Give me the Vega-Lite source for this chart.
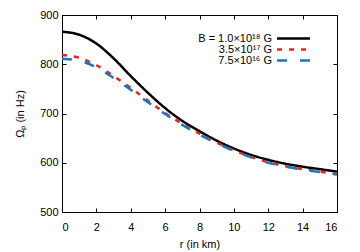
{
  "$schema": "https://vega.github.io/schema/vega-lite/v6.json",
  "autosize": {"type": "none"},
  "padding": {"left": 62, "top": 15, "right": 23, "bottom": 40},
  "width": 275,
  "height": 197,
  "background": "white",
  "config": {
    "font": "Liberation Sans",
    "view": {"stroke": "black", "strokeWidth": 1},
    "axis": {"grid": false, "domain": false, "tickColor": "black", "tickWidth": 1, "labelColor": "black", "titleColor": "black", "labelFontSize": 11, "titleFontSize": 11, "titleFontWeight": "normal", "labelFont": "Liberation Sans", "titleFont": "Liberation Sans"}
  },
  "data": {"values": [
    {"r": 0, "omega": 866, "series": "B = 1.0×10¹⁸ G"},
    {"r": 1, "omega": 860, "series": "B = 1.0×10¹⁸ G"},
    {"r": 2, "omega": 842, "series": "B = 1.0×10¹⁸ G"},
    {"r": 3, "omega": 812, "series": "B = 1.0×10¹⁸ G"},
    {"r": 4, "omega": 776, "series": "B = 1.0×10¹⁸ G"},
    {"r": 5, "omega": 742, "series": "B = 1.0×10¹⁸ G"},
    {"r": 6, "omega": 711, "series": "B = 1.0×10¹⁸ G"},
    {"r": 7, "omega": 685, "series": "B = 1.0×10¹⁸ G"},
    {"r": 8, "omega": 664, "series": "B = 1.0×10¹⁸ G"},
    {"r": 9, "omega": 645, "series": "B = 1.0×10¹⁸ G"},
    {"r": 10, "omega": 629, "series": "B = 1.0×10¹⁸ G"},
    {"r": 11, "omega": 616, "series": "B = 1.0×10¹⁸ G"},
    {"r": 12, "omega": 606, "series": "B = 1.0×10¹⁸ G"},
    {"r": 13, "omega": 598, "series": "B = 1.0×10¹⁸ G"},
    {"r": 14, "omega": 592, "series": "B = 1.0×10¹⁸ G"},
    {"r": 15, "omega": 587, "series": "B = 1.0×10¹⁸ G"},
    {"r": 16, "omega": 582, "series": "B = 1.0×10¹⁸ G"},
    {"r": 0, "omega": 819, "series": "3.5×10¹⁷ G"},
    {"r": 1, "omega": 813, "series": "3.5×10¹⁷ G"},
    {"r": 2, "omega": 798, "series": "3.5×10¹⁷ G"},
    {"r": 3, "omega": 776, "series": "3.5×10¹⁷ G"},
    {"r": 4, "omega": 752, "series": "3.5×10¹⁷ G"},
    {"r": 5, "omega": 726, "series": "3.5×10¹⁷ G"},
    {"r": 6, "omega": 701, "series": "3.5×10¹⁷ G"},
    {"r": 7, "omega": 679, "series": "3.5×10¹⁷ G"},
    {"r": 8, "omega": 659, "series": "3.5×10¹⁷ G"},
    {"r": 9, "omega": 641, "series": "3.5×10¹⁷ G"},
    {"r": 10, "omega": 625, "series": "3.5×10¹⁷ G"},
    {"r": 11, "omega": 612, "series": "3.5×10¹⁷ G"},
    {"r": 12, "omega": 601, "series": "3.5×10¹⁷ G"},
    {"r": 13, "omega": 593, "series": "3.5×10¹⁷ G"},
    {"r": 14, "omega": 587, "series": "3.5×10¹⁷ G"},
    {"r": 15, "omega": 582, "series": "3.5×10¹⁷ G"},
    {"r": 16, "omega": 577, "series": "3.5×10¹⁷ G"},
    {"r": 0, "omega": 811, "series": "7.5×10¹⁶ G"},
    {"r": 1, "omega": 807, "series": "7.5×10¹⁶ G"},
    {"r": 2, "omega": 794, "series": "7.5×10¹⁶ G"},
    {"r": 3, "omega": 772, "series": "7.5×10¹⁶ G"},
    {"r": 4, "omega": 748, "series": "7.5×10¹⁶ G"},
    {"r": 5, "omega": 723, "series": "7.5×10¹⁶ G"},
    {"r": 6, "omega": 699, "series": "7.5×10¹⁶ G"},
    {"r": 7, "omega": 677, "series": "7.5×10¹⁶ G"},
    {"r": 8, "omega": 657, "series": "7.5×10¹⁶ G"},
    {"r": 9, "omega": 640, "series": "7.5×10¹⁶ G"},
    {"r": 10, "omega": 624, "series": "7.5×10¹⁶ G"},
    {"r": 11, "omega": 611, "series": "7.5×10¹⁶ G"},
    {"r": 12, "omega": 600, "series": "7.5×10¹⁶ G"},
    {"r": 13, "omega": 592, "series": "7.5×10¹⁶ G"},
    {"r": 14, "omega": 586, "series": "7.5×10¹⁶ G"},
    {"r": 15, "omega": 581, "series": "7.5×10¹⁶ G"},
    {"r": 16, "omega": 576, "series": "7.5×10¹⁶ G"}
  ]},
  "layer": [
    {
      "mark": {"type": "line", "interpolate": "monotone", "strokeWidth": 2.5, "clip": true},
      "encoding": {
        "x": {"field": "r", "type": "quantitative", "scale": {"domain": [0, 16], "nice": false, "zero": false},
              "axis": {"orient": "bottom", "values": [0,2,4,6,8,10,12,14,16], "tickSize": -4, "labelPadding": 13, "title": "r (in km)", "titlePadding": 6}},
        "y": {"field": "omega", "type": "quantitative", "scale": {"domain": [500, 900], "nice": false, "zero": false},
              "axis": {"orient": "left", "values": [500,600,700,800,900], "tickSize": -4, "labelPadding": 8, "title": "Ωₚ (in Hz)", "titlePadding": 14}},
        "color": {"field": "series", "type": "nominal",
                  "scale": {"domain": ["B = 1.0×10¹⁸ G", "3.5×10¹⁷ G", "7.5×10¹⁶ G"], "range": ["#000000", "#f0201a", "#1a78c0"]},
                  "legend": {"title": null, "orient": "none", "legendX": 226, "legendY": 18, "padding": 0,
                             "symbolType": "M-4.7,0H4.7", "symbolSize": 49, "symbolStrokeWidth": 2.5,
                             "labelAlign": "right", "labelOffset": -27, "labelFontSize": 11, "labelColor": "black",
                             "rowPadding": -2, "labelFont": "Liberation Sans"}},
        "strokeDash": {"field": "series", "type": "nominal",
                       "scale": {"domain": ["B = 1.0×10¹⁸ G", "3.5×10¹⁷ G", "7.5×10¹⁶ G"], "range": [[1, 0], [5, 7], [10, 13]]},
                       "legend": null},
        "order": {"field": "series"}
      }
    },
    {
      "mark": {"type": "line", "opacity": 0},
      "encoding": {
        "x": {"field": "r", "type": "quantitative", "axis": {"orient": "top", "values": [0,2,4,6,8,10,12,14,16], "tickSize": -4, "labels": false, "title": null}},
        "y": {"field": "omega", "type": "quantitative", "axis": {"orient": "right", "values": [500,600,700,800,900], "tickSize": -4, "labels": false, "title": null}},
        "detail": {"field": "series"}
      }
    }
  ]
}
